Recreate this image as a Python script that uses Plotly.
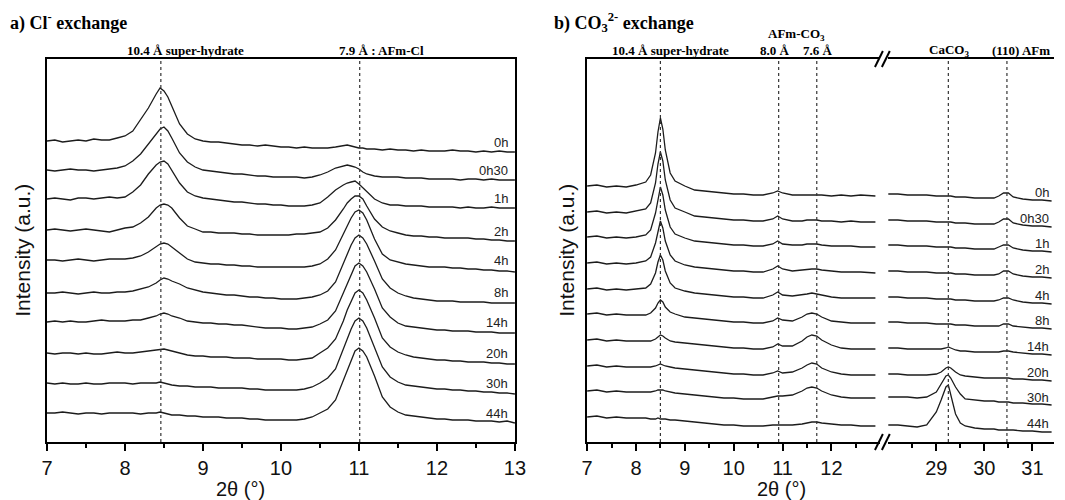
import plotly.graph_objects as go

# ---------------- data ----------------
labels = ["0h", "0h30", "1h", "2h", "4h", "8h", "14h", "20h", "30h", "44h"]

# panel a: 2theta grid
xa = [7.0, 7.1, 7.2, 7.3, 7.4, 7.5, 7.6, 7.7, 7.8, 7.9,
      8.0, 8.1, 8.2, 8.3, 8.4, 8.45, 8.5, 8.55, 8.6, 8.7, 8.8, 8.9,
      9.0, 9.1, 9.2, 9.3, 9.4, 9.5, 9.6, 9.7, 9.8, 9.9,
      10.0, 10.1, 10.2, 10.3, 10.4, 10.5, 10.6, 10.7, 10.8,
      10.85, 10.9, 10.95, 11.0, 11.05,
      11.1, 11.2, 11.3, 11.4, 11.5, 11.6, 11.7, 11.8, 11.9,
      12.0, 12.1, 12.2, 12.3, 12.4, 12.5, 12.6, 12.7, 12.8, 12.9, 13.0]

a_0h = [301, 302, 300, 301, 302, 301, 303, 302, 302, 304,
        306, 311, 322, 334, 348, 354, 351, 345, 336, 318, 308, 303,
        301, 300, 300, 299, 298, 297, 297, 296, 297, 296,
        295, 295, 294, 295, 294, 294, 294, 295, 296,
        297, 296, 295, 294, 294,
        293, 293, 292, 293, 292, 292, 291, 292, 291,
        291, 291, 292, 291, 291, 290, 291, 290, 291, 290, 290]
a_0h30 = [272, 271, 272, 273, 272, 272, 271, 272, 273, 274,
          276, 281, 288, 298, 309, 313, 315, 311, 304, 289, 280, 275,
          272, 271, 270, 269, 268, 268, 267, 266, 266, 265,
          265, 265, 265, 264, 265, 267, 270, 274, 276,
          277, 276, 275, 273, 270,
          268, 266, 265, 265, 265, 264, 264, 264, 263,
          263, 263, 263, 262, 263, 263, 262, 263, 262, 262, 262]
a_1h = [243, 244, 243, 242, 244, 244, 243, 244, 245, 244,
        245, 250, 257, 268, 277, 280, 281, 278, 272, 259, 250, 246,
        244, 243, 242, 241, 240, 240, 239, 238, 238, 237,
        237, 236, 236, 236, 237, 239, 245, 252, 257,
        259, 260, 261, 258, 254,
        250, 243, 239, 237, 237, 236, 236, 236, 235,
        235, 235, 235, 234, 235, 234, 234, 235, 234, 234, 234]
a_2h = [212, 213, 212, 211, 212, 213, 212, 211, 210, 212,
        214, 215, 219, 225, 234, 237, 238, 237, 234, 224, 216, 213,
        210, 210, 209, 209, 209, 208, 208, 207, 207, 207,
        207, 207, 208, 208, 209, 210, 214, 222, 233,
        239, 243, 246, 246, 243,
        236, 223, 215, 211, 209, 207, 206, 206, 205,
        205, 204, 204, 204, 204, 203, 203, 202, 202, 201, 201]
a_4h = [182, 182, 181, 182, 183, 182, 181, 182, 183, 183,
        183, 184, 186, 190, 195, 198, 199, 198, 195, 189, 183, 180,
        179, 178, 178, 177, 177, 176, 176, 175, 175, 175,
        175, 175, 175, 175, 176, 178, 183, 192, 208,
        216, 224, 230, 232, 229,
        222, 203, 188, 182, 180, 178, 177, 176, 175,
        175, 175, 174, 174, 173, 173, 172, 172, 171, 171, 170]
a_8h = [149, 149, 150, 149, 148, 149, 150, 149, 149, 150,
        150, 151, 153, 155, 159, 162, 164, 163, 161, 158, 154, 152,
        150, 149, 148, 147, 147, 146, 145, 145, 144, 144,
        143, 143, 143, 144, 145, 147, 151, 160, 178,
        188, 197, 204, 207, 204,
        198, 181, 163, 154, 149, 146, 144, 143, 142,
        141, 141, 141, 140, 140, 140, 140, 139, 139, 139, 139]
a_14h = [120, 121, 120, 121, 120, 120, 121, 122, 121, 121,
         121, 122, 122, 124, 126, 128, 129, 128, 126, 124, 121, 120,
         119, 119, 118, 118, 117, 117, 116, 115, 114, 114,
         114, 113, 113, 114, 115, 118, 122, 131, 149,
         159, 168, 176, 179, 176,
         170, 153, 134, 125, 119, 116, 115, 114, 113,
         112, 112, 111, 111, 111, 110, 110, 110, 109, 109, 109]
a_20h = [89, 88, 89, 89, 88, 89, 88, 88, 89, 90,
         89, 89, 90, 91, 92, 93, 93, 92, 91, 89, 87, 86,
         86, 85, 85, 85, 84, 84, 84, 83, 83, 83,
         83, 82, 82, 83, 84, 89, 94, 103, 121,
         132, 141, 149, 152, 149,
         142, 124, 104, 95, 90, 87, 85, 84, 83,
         82, 82, 81, 81, 80, 80, 80, 79, 79, 78, 78]
a_30h = [59, 58, 59, 58, 58, 59, 58, 58, 59, 59,
         59, 58, 59, 59, 59, 60, 59, 58, 57, 56, 56, 55,
         55, 55, 54, 54, 54, 54, 53, 53, 52, 52,
         52, 52, 52, 53, 55, 59, 64, 73, 92,
         103, 113, 121, 124, 121,
         114, 95, 75, 65, 60, 57, 56, 55, 54,
         53, 53, 52, 52, 51, 51, 50, 50, 49, 49, 48]
a_44h = [29, 29, 30, 29, 28, 29, 29, 28, 29, 29,
         29, 29, 28, 29, 29, 30, 29, 28, 27, 27, 26, 26,
         25, 25, 25, 24, 24, 24, 23, 23, 22, 22,
         22, 22, 22, 23, 25, 29, 33, 42, 62,
         73, 83, 91, 94, 91,
         85, 66, 45, 35, 30, 27, 26, 25, 24,
         23, 23, 22, 22, 22, 21, 21, 21, 20, 21, 19]

# panel b: low-angle segment and high-angle segment
xb1 = [7.0, 7.2, 7.4, 7.6, 7.8, 8.0, 8.2, 8.3, 8.4, 8.45, 8.5, 8.55, 8.6, 8.7, 8.8,
       9.0, 9.2, 9.4, 9.6, 9.8, 10.0, 10.2, 10.4, 10.6, 10.8, 10.9, 11.0, 11.2,
       11.4, 11.5, 11.6, 11.7, 11.8, 12.0, 12.2, 12.4, 12.6, 12.9]
xb2 = [28.0, 28.2, 28.4, 28.6, 28.8, 29.0, 29.1, 29.2, 29.25, 29.3, 29.4, 29.5,
       29.6, 29.8, 30.0, 30.2, 30.3, 30.4, 30.5, 30.6, 30.8, 31.0, 31.2, 31.4]

b1_0h = [256, 257, 255, 256, 255, 257, 260, 267, 289, 310, 324, 313, 292, 269, 261,
         256, 252, 251, 250, 249, 248, 248, 247, 247, 249, 251, 249, 247,
         247, 247, 247, 247, 247, 246, 247, 246, 247, 246]
b2_0h = [248, 248, 247, 247, 247, 246, 246, 246, 246, 246, 245, 245,
         245, 244, 244, 244, 246, 249, 249, 245, 243, 242, 242, 241]
b1_0h30 = [230, 231, 229, 230, 229, 231, 233, 239, 259, 278, 290, 281, 262, 242, 234,
           230, 226, 225, 224, 223, 222, 222, 221, 221, 223, 226, 223, 221,
           221, 222, 222, 222, 221, 221, 220, 221, 220, 220]
b2_0h30 = [222, 222, 221, 221, 221, 220, 220, 220, 220, 220, 219, 219,
           219, 218, 218, 218, 220, 223, 223, 219, 217, 216, 216, 215]
b1_1h = [205, 206, 204, 205, 204, 205, 207, 212, 229, 244, 255, 247, 232, 215, 208,
         204, 201, 200, 199, 198, 197, 197, 196, 196, 198, 201, 198, 197,
         197, 198, 198, 198, 197, 196, 196, 196, 195, 195]
b2_1h = [197, 197, 196, 196, 196, 195, 195, 195, 195, 195, 194, 194,
         194, 193, 193, 193, 195, 197, 197, 194, 192, 191, 191, 190]
b1_2h = [179, 180, 178, 179, 178, 179, 181, 185, 199, 212, 221, 214, 201, 187, 181,
         177, 175, 174, 173, 172, 171, 171, 170, 170, 173, 176, 173, 171,
         172, 173, 173, 173, 172, 171, 170, 170, 170, 169]
b2_2h = [171, 171, 170, 170, 170, 169, 169, 169, 169, 169, 168, 168,
         168, 167, 167, 167, 168, 171, 171, 168, 166, 165, 165, 164]
b1_4h = [153, 154, 152, 153, 152, 153, 154, 158, 169, 180, 187, 182, 171, 159, 154,
         151, 149, 148, 147, 146, 145, 145, 144, 144, 147, 150, 147, 146,
         147, 148, 149, 148, 147, 145, 144, 144, 144, 144]
b2_4h = [145, 145, 144, 144, 144, 143, 143, 143, 143, 143, 142, 142,
         142, 141, 141, 141, 142, 144, 144, 142, 140, 139, 139, 138]
b1_8h = [128, 129, 127, 128, 127, 127, 127, 129, 134, 139, 142, 140, 135, 130, 128,
         125, 124, 123, 122, 121, 120, 120, 119, 119, 121, 124, 122, 121,
         125, 128, 129, 128, 125, 121, 120, 119, 119, 119]
b2_8h = [120, 120, 119, 119, 119, 118, 118, 118, 118, 118, 117, 117,
         117, 116, 116, 116, 116, 118, 118, 116, 115, 114, 114, 113]
b1_14h = [102, 103, 101, 102, 101, 101, 101, 101, 103, 105, 107, 106, 104, 101, 100,
          99, 98, 97, 96, 95, 94, 94, 93, 93, 95, 98, 96, 96,
          101, 105, 107, 106, 102, 97, 94, 93, 93, 93]
b2_14h = [94, 94, 93, 93, 93, 93, 93, 94, 95, 94, 92, 91,
          91, 90, 90, 90, 90, 91, 91, 90, 89, 88, 88, 87]
b1_20h = [76, 77, 75, 76, 75, 75, 75, 75, 76, 77, 78, 77, 76, 75, 74,
          73, 72, 71, 70, 69, 68, 68, 67, 67, 69, 71, 69, 70,
          74, 77, 79, 78, 74, 70, 68, 67, 67, 67]
b2_20h = [68, 68, 67, 67, 67, 68, 70, 74, 75, 74, 70, 67,
          66, 65, 64, 64, 64, 64, 64, 63, 63, 62, 62, 61]
b1_30h = [51, 52, 50, 51, 50, 50, 50, 50, 51, 52, 52, 52, 51, 50, 49,
          48, 47, 46, 45, 44, 44, 43, 43, 43, 45, 46, 46, 47,
          51, 54, 55, 54, 51, 47, 45, 44, 44, 44]
b2_30h = [45, 45, 45, 44, 45, 50, 58, 66, 67, 64, 55, 48,
          43, 42, 41, 41, 40, 40, 40, 39, 39, 38, 38, 37]
b1_44h = [25, 26, 24, 25, 24, 24, 24, 23, 23, 24, 23, 23, 23, 22, 22,
          21, 20, 19, 18, 17, 17, 16, 16, 16, 17, 17, 17, 17,
          18, 19, 20, 20, 19, 18, 17, 17, 16, 16]
b2_44h = [17, 17, 16, 15, 17, 30, 42, 55, 57, 48, 28, 19,
          16, 14, 13, 13, 12, 12, 12, 12, 11, 11, 10, 10]

# reference line positions (2theta)
ref_a = [8.46, 11.01]
ref_b1 = [8.50, 10.92, 11.70]
ref_b2 = [29.25, 30.47]

# ---------------- figure ----------------
OFF = 8                     # page body margin of the browser
W, H = 1065 - OFF, 500 - OFF
ML, MR, MT, MB = 47 - OFF, 0, 59 - OFF, 500 - 442
PW = W - ML - MR
PH = H - MT - MB


def px(x):
    """screen x pixel -> paper coordinate"""
    return (x - OFF - ML) / PW


def py(y):
    """screen y pixel -> paper coordinate"""
    return (MT + PH - (y - OFF)) / PH


LINE = "#1c1c1c"
SANS = "Arial, Liberation Sans, sans-serif"
SERIF = "Times New Roman, Liberation Serif, serif"

curves_a = [a_0h, a_0h30, a_1h, a_2h, a_4h, a_8h, a_14h, a_20h, a_30h, a_44h]
curves_b1 = [b1_0h, b1_0h30, b1_1h, b1_2h, b1_4h, b1_8h, b1_14h, b1_20h, b1_30h, b1_44h]
curves_b2 = [b2_0h, b2_0h30, b2_1h, b2_2h, b2_4h, b2_8h, b2_14h, b2_20h, b2_30h, b2_44h]

fig = go.Figure()
for ys in curves_a:
    fig.add_trace(go.Scatter(x=xa, y=ys, mode="lines", xaxis="x", yaxis="y",
                             line=dict(color=LINE, width=1.3), hoverinfo="skip",
                             showlegend=False))
for ys in curves_b1:
    fig.add_trace(go.Scatter(x=xb1, y=ys, mode="lines", xaxis="x2", yaxis="y2",
                             line=dict(color=LINE, width=1.3), hoverinfo="skip",
                             showlegend=False))
for ys in curves_b2:
    fig.add_trace(go.Scatter(x=xb2, y=ys, mode="lines", xaxis="x3", yaxis="y3",
                             line=dict(color=LINE, width=1.3), hoverinfo="skip",
                             showlegend=False))

axis_common = dict(showline=True, linewidth=2, linecolor="black", showgrid=False,
                   zeroline=False, ticks="outside", ticklen=7, tickwidth=2,
                   tickcolor="black", tickfont=dict(family=SANS, size=20, color="#111"))
yaxis_common = dict(range=[0, PH], showgrid=False, zeroline=False,
                    showticklabels=False, ticks="", linecolor="black", linewidth=2)

dom_a = [0, px(520)]
dom_b1 = [px(593), px(889.4)]
dom_b2 = [px(897), 1.0]

fig.update_layout(
    width=W, height=H, margin=dict(l=ML, r=MR, t=MT, b=MB),
    paper_bgcolor="white", plot_bgcolor="white",
    xaxis=dict(domain=dom_a, range=[7, 13], anchor="y", mirror=True,
               tickvals=[7, 8, 9, 10, 11, 12, 13],
               minor=dict(tickvals=[7.5, 8.5, 9.5, 10.5, 11.5, 12.5], ticks="outside",
                          ticklen=4, tickwidth=1.5, tickcolor="black"),
               **axis_common),
    yaxis=dict(domain=[0, 1], anchor="x", showline=True, mirror=True, **yaxis_common),
    xaxis2=dict(domain=dom_b1, range=[7, 13], anchor="y2", mirror=True,
                tickvals=[7, 8, 9, 10, 11, 12],
                minor=dict(tickvals=[7.5, 8.5, 9.5, 10.5, 11.5, 12.5], ticks="outside",
                           ticklen=4, tickwidth=1.5, tickcolor="black"),
                **axis_common),
    yaxis2=dict(domain=[0, 1], anchor="x2", showline=True, mirror=False, **yaxis_common),
    xaxis3=dict(domain=dom_b2, range=[27.99, 31.45], anchor="y3", mirror=True,
                tickvals=[29, 30, 31],
                minor=dict(tickvals=[28.5, 29.5, 30.5], ticks="outside",
                           ticklen=4, tickwidth=1.5, tickcolor="black"),
                **axis_common),
    yaxis3=dict(domain=[0, 1], anchor="x3", showline=False, matches="y2", **yaxis_common),
)

shapes = []
for xv in ref_a:
    shapes.append(dict(type="line", xref="x", yref="paper", x0=xv, x1=xv, y0=0, y1=1,
                       line=dict(color="#333", width=1.2, dash="dot")))
for xv in ref_b1:
    shapes.append(dict(type="line", xref="x2", yref="paper", x0=xv, x1=xv, y0=0, y1=1,
                       line=dict(color="#333", width=1.2, dash="dot")))
for xv in ref_b2:
    shapes.append(dict(type="line", xref="x3", yref="paper", x0=xv, x1=xv, y0=0, y1=1,
                       line=dict(color="#333", width=1.2, dash="dot")))
# axis-break marks (//) on top and bottom frame
for yb in (59, 442):
    shapes.append(dict(type="rect", xref="paper", yref="paper", x0=px(889.5), x1=px(896.5),
                       y0=py(yb + 2), y1=py(yb - 2), fillcolor="white",
                       line=dict(width=0)))
    for off in (0, 7):
        shapes.append(dict(type="line", xref="paper", yref="paper",
                           x0=px(884 + off), y0=py(yb + 8), x1=px(892 + off), y1=py(yb - 8),
                           line=dict(color="black", width=2)))
fig.update_layout(shapes=shapes)

ann = []
# curve labels
lab_a_y = [300, 272, 244, 211, 182, 150, 120, 89, 59, 29]
lab_b_y = [250, 224, 199, 173, 147, 122, 96, 70, 45, 19]
for t, yv in zip(labels, lab_a_y):
    ann.append(dict(text=t, x=12.94, y=yv, xref="x", yref="y", xanchor="right",
                    yanchor="middle", showarrow=False,
                    font=dict(family=SANS, size=13, color="#222")))
for t, yv in zip(labels, lab_b_y):
    ann.append(dict(text=t, x=31.39, y=yv, xref="x3", yref="y3", xanchor="right",
                    yanchor="middle", showarrow=False,
                    font=dict(family=SANS, size=13, color="#222")))

# panel titles
ann.append(dict(text="<b>a) Cl<sup>-</sup> exchange</b>", x=px(8), y=py(22), xref="paper",
                yref="paper", xanchor="left", yanchor="middle", showarrow=False,
                font=dict(family=SERIF, size=18, color="black")))
ann.append(dict(text="<b>b) CO<sub>3</sub><sup>2-</sup> exchange</b>", x=px(558), y=py(22),
                xref="paper", yref="paper", xanchor="left", yanchor="middle",
                showarrow=False, font=dict(family=SERIF, size=18, color="black")))

# phase labels
phase = [("<b>10.4 Å super-hydrate</b>", 187, 50),
         ("<b>7.9 Å : AFm-Cl</b>", 385, 50),
         ("<b>10.4 Å super-hydrate</b>", 677, 50),
         ("<b>AFm-CO<sub>3</sub></b>", 805, 34),
         ("<b>8.0 Å</b>", 783, 50),
         ("<b>7.6 Å</b>", 826, 50),
         ("<b>CaCO<sub>3</sub></b>", 959, 50),
         ("<b>(110) AFm</b>", 1032, 50)]
for t, xx, yy in phase:
    ann.append(dict(text=t, x=px(xx), y=py(yy), xref="paper", yref="paper",
                    xanchor="center", yanchor="middle", showarrow=False,
                    font=dict(family=SERIF, size=13, color="black")))

# axis titles
for xx in (243, 790):
    ann.append(dict(text="2θ (°)", x=px(xx), y=py(489), xref="paper", yref="paper",
                    xanchor="center", yanchor="middle", showarrow=False,
                    font=dict(family=SANS, size=20, color="#111")))
for xx in (22, 572):
    ann.append(dict(text="Intensity (a.u.)", x=px(xx), y=0.5, xref="paper", yref="paper",
                    xanchor="center", yanchor="middle", textangle=-90, showarrow=False,
                    font=dict(family=SANS, size=21, color="#111")))
fig.update_layout(annotations=ann)

fig.write_html("out.html")
